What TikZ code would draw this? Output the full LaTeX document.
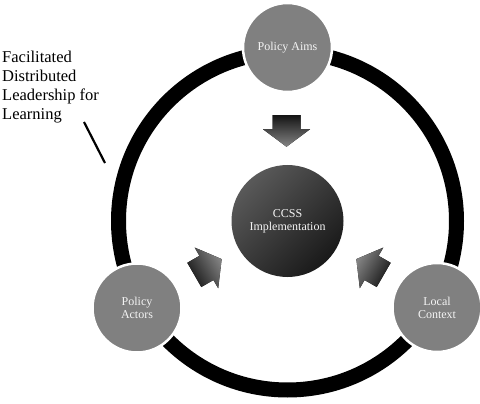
\documentclass[tikz,border=0pt]{standalone}
\usepackage{fontspec}
\setmainfont{Liberation Serif}
\definecolor{nodegray}{HTML}{808080}
\definecolor{txtwhite}{HTML}{F4F4F4}
\tikzset{
  outer/.style={circle, fill=nodegray, draw=white, line width=2.5pt, minimum size=89pt, inner sep=0pt,
    text=txtwhite, align=center, font=\fontsize{12}{13}\selectfont},
  inner/.style={circle, draw=none, shade, top color=black!65, bottom color=black!90, shading angle=45,
    minimum size=112pt, inner sep=0pt, text=txtwhite, align=center, font=\fontsize{12}{13}\selectfont},
  blockarrow/.style={shade, top color=black!92, bottom color=black!48},
  ringline/.style={line width=15pt, draw=black},
}
\newcommand{\blockarrowpath}{(-14,-15.8) -- (14,-15.8) -- (14,-1.8) -- (23.5,-1.8) -- (0,15.8) -- (-23.5,-1.8) -- (-14,-1.8) -- cycle}
\begin{document}
\begin{tikzpicture}[x=1pt,y=-1pt]
\useasboundingbox (0,0) rectangle (480,404);
\fill[white] (0,0) rectangle (480,404);
\coordinate (ringc) at (287.5,221);
\draw[ringline] (ringc) circle (169);
\node[outer] (aims) at (287.5,47.5) {Policy Aims};
\node[outer] (actors) at (137,308) {Policy\\Actors};
\node[outer] (context) at (437,307.5) {Local\\Context};
\node[inner] (ccss) at (ringc) {CCSS\\Implementation};
\begin{scope}[shift={(286.5,131)}]
  \fill[blockarrow, shading angle=0] \blockarrowpath;
\end{scope}
\begin{scope}[shift={(208,267)}, rotate=120]
  \fill[blockarrow, shading angle=120] \blockarrowpath;
\end{scope}
\begin{scope}[shift={(370,267)}, rotate=-120]
  \fill[blockarrow, shading angle=-120] \blockarrowpath;
\end{scope}
\node[anchor=base west, align=left, inner sep=0pt, font=\fontsize{16.5}{19}\selectfont] (fdl) at (2,119.5)
  {Facilitated\\Distributed\\Leadership for\\Learning};
\coordinate (lineA) at (84,122);
\coordinate (lineB) at (105,163);
\draw[line width=2.2pt] (lineA) -- (lineB);
\end{tikzpicture}
\end{document}
